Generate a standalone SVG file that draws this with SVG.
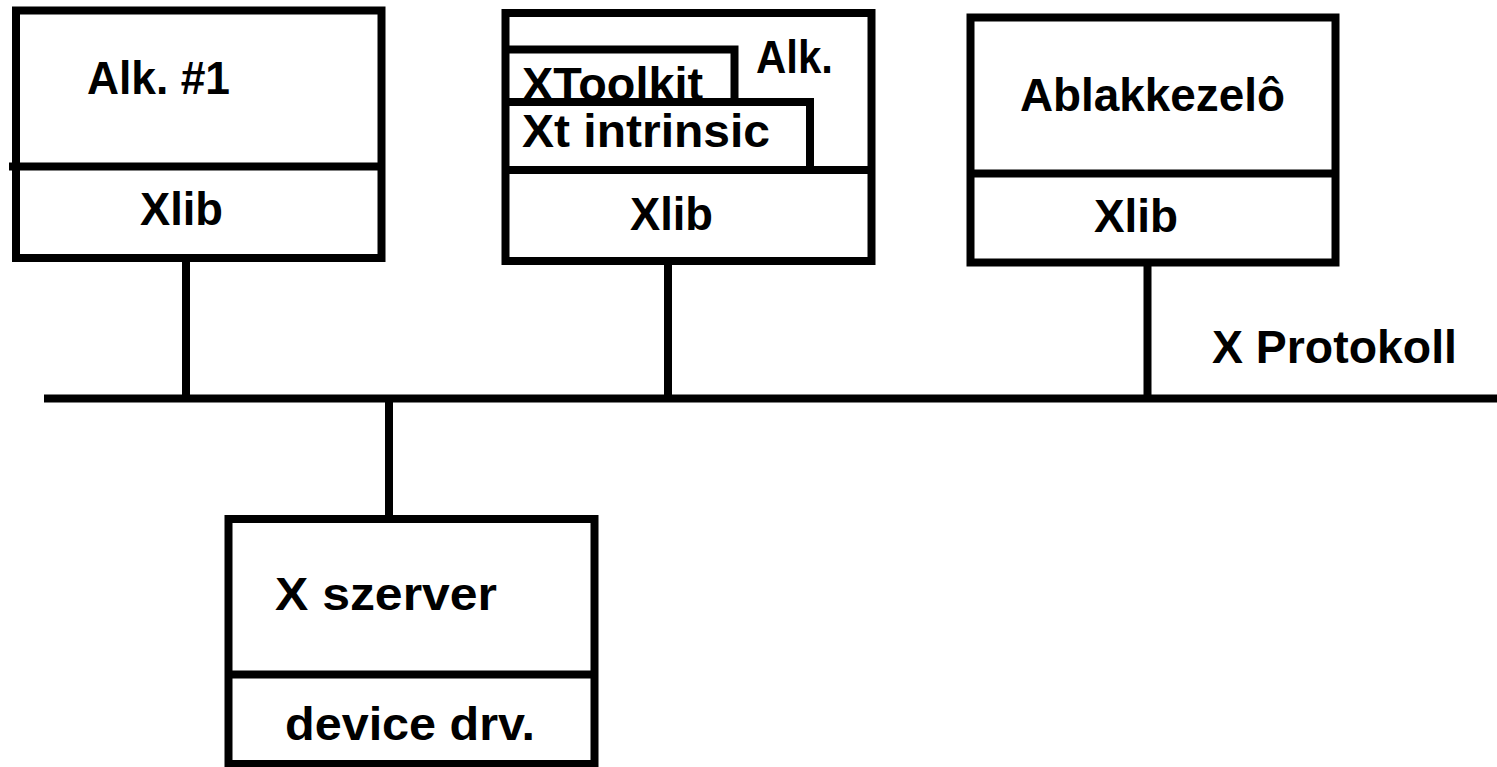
<svg xmlns="http://www.w3.org/2000/svg" width="1497" height="767" viewBox="0 0 1497 767">
<style>
.b{fill:#fff;stroke:#000;stroke-width:8}
.l{stroke:#000;stroke-width:8;fill:none}
.t{font-family:"Liberation Sans",Arial,sans-serif;font-weight:bold;font-size:46px;fill:#000}
</style>
<rect width="1497" height="767" fill="#fff"/>
<g id="connectors">
<line class="l" x1="44" y1="398.5" x2="1497" y2="398.5"/>
<line class="l" x1="186" y1="258" x2="186" y2="398"/>
<line class="l" x1="668" y1="261" x2="668" y2="398"/>
<line class="l" x1="1147.5" y1="262" x2="1147.5" y2="398"/>
<line class="l" x1="389" y1="398" x2="389" y2="519"/>
</g>
<g id="app1">
<rect class="b" x="16" y="10.5" width="365.5" height="247.5"/>
<line class="l" x1="9" y1="166.5" x2="381.5" y2="166.5"/>
<text class="t" x="87" y="94" textLength="143" lengthAdjust="spacingAndGlyphs">Alk. #1</text>
<text class="t" x="140" y="225" textLength="83" lengthAdjust="spacingAndGlyphs">Xlib</text>
</g>
<g id="app2">
<rect class="b" x="505.5" y="13" width="366" height="248"/>
<text class="t" x="522" y="100" textLength="181" lengthAdjust="spacingAndGlyphs">XToolkit</text>
<polyline class="l" points="505.5,49.5 734.5,49.5 734.5,102"/>
<polyline class="l" points="505.5,102 810,102 810,170"/>
<line class="l" x1="505.5" y1="170" x2="871.5" y2="170"/>
<text class="t" x="756" y="73" textLength="77" lengthAdjust="spacingAndGlyphs">Alk.</text>
<text class="t" x="522" y="147" textLength="248" lengthAdjust="spacingAndGlyphs">Xt intrinsic</text>
<text class="t" x="630" y="230" textLength="83" lengthAdjust="spacingAndGlyphs">Xlib</text>
</g>
<g id="wm">
<rect class="b" x="970.5" y="17.5" width="365" height="245"/>
<line class="l" x1="970.5" y1="173.5" x2="1335.5" y2="173.5"/>
<text class="t" x="1020" y="111" textLength="265" lengthAdjust="spacingAndGlyphs">Ablakkezelô</text>
<text class="t" x="1094" y="232" textLength="84" lengthAdjust="spacingAndGlyphs">Xlib</text>
</g>
<g id="server">
<rect class="b" x="228.5" y="519" width="366" height="245"/>
<line class="l" x1="228.5" y1="674.5" x2="594.5" y2="674.5"/>
<text class="t" x="275" y="610" textLength="222" lengthAdjust="spacingAndGlyphs">X szerver</text>
<text class="t" x="285" y="740" textLength="250" lengthAdjust="spacingAndGlyphs">device drv.</text>
</g>
<g id="protocol-label">
<text class="t" x="1212" y="363" textLength="245" lengthAdjust="spacingAndGlyphs">X Protokoll</text>
</g>
</svg>
